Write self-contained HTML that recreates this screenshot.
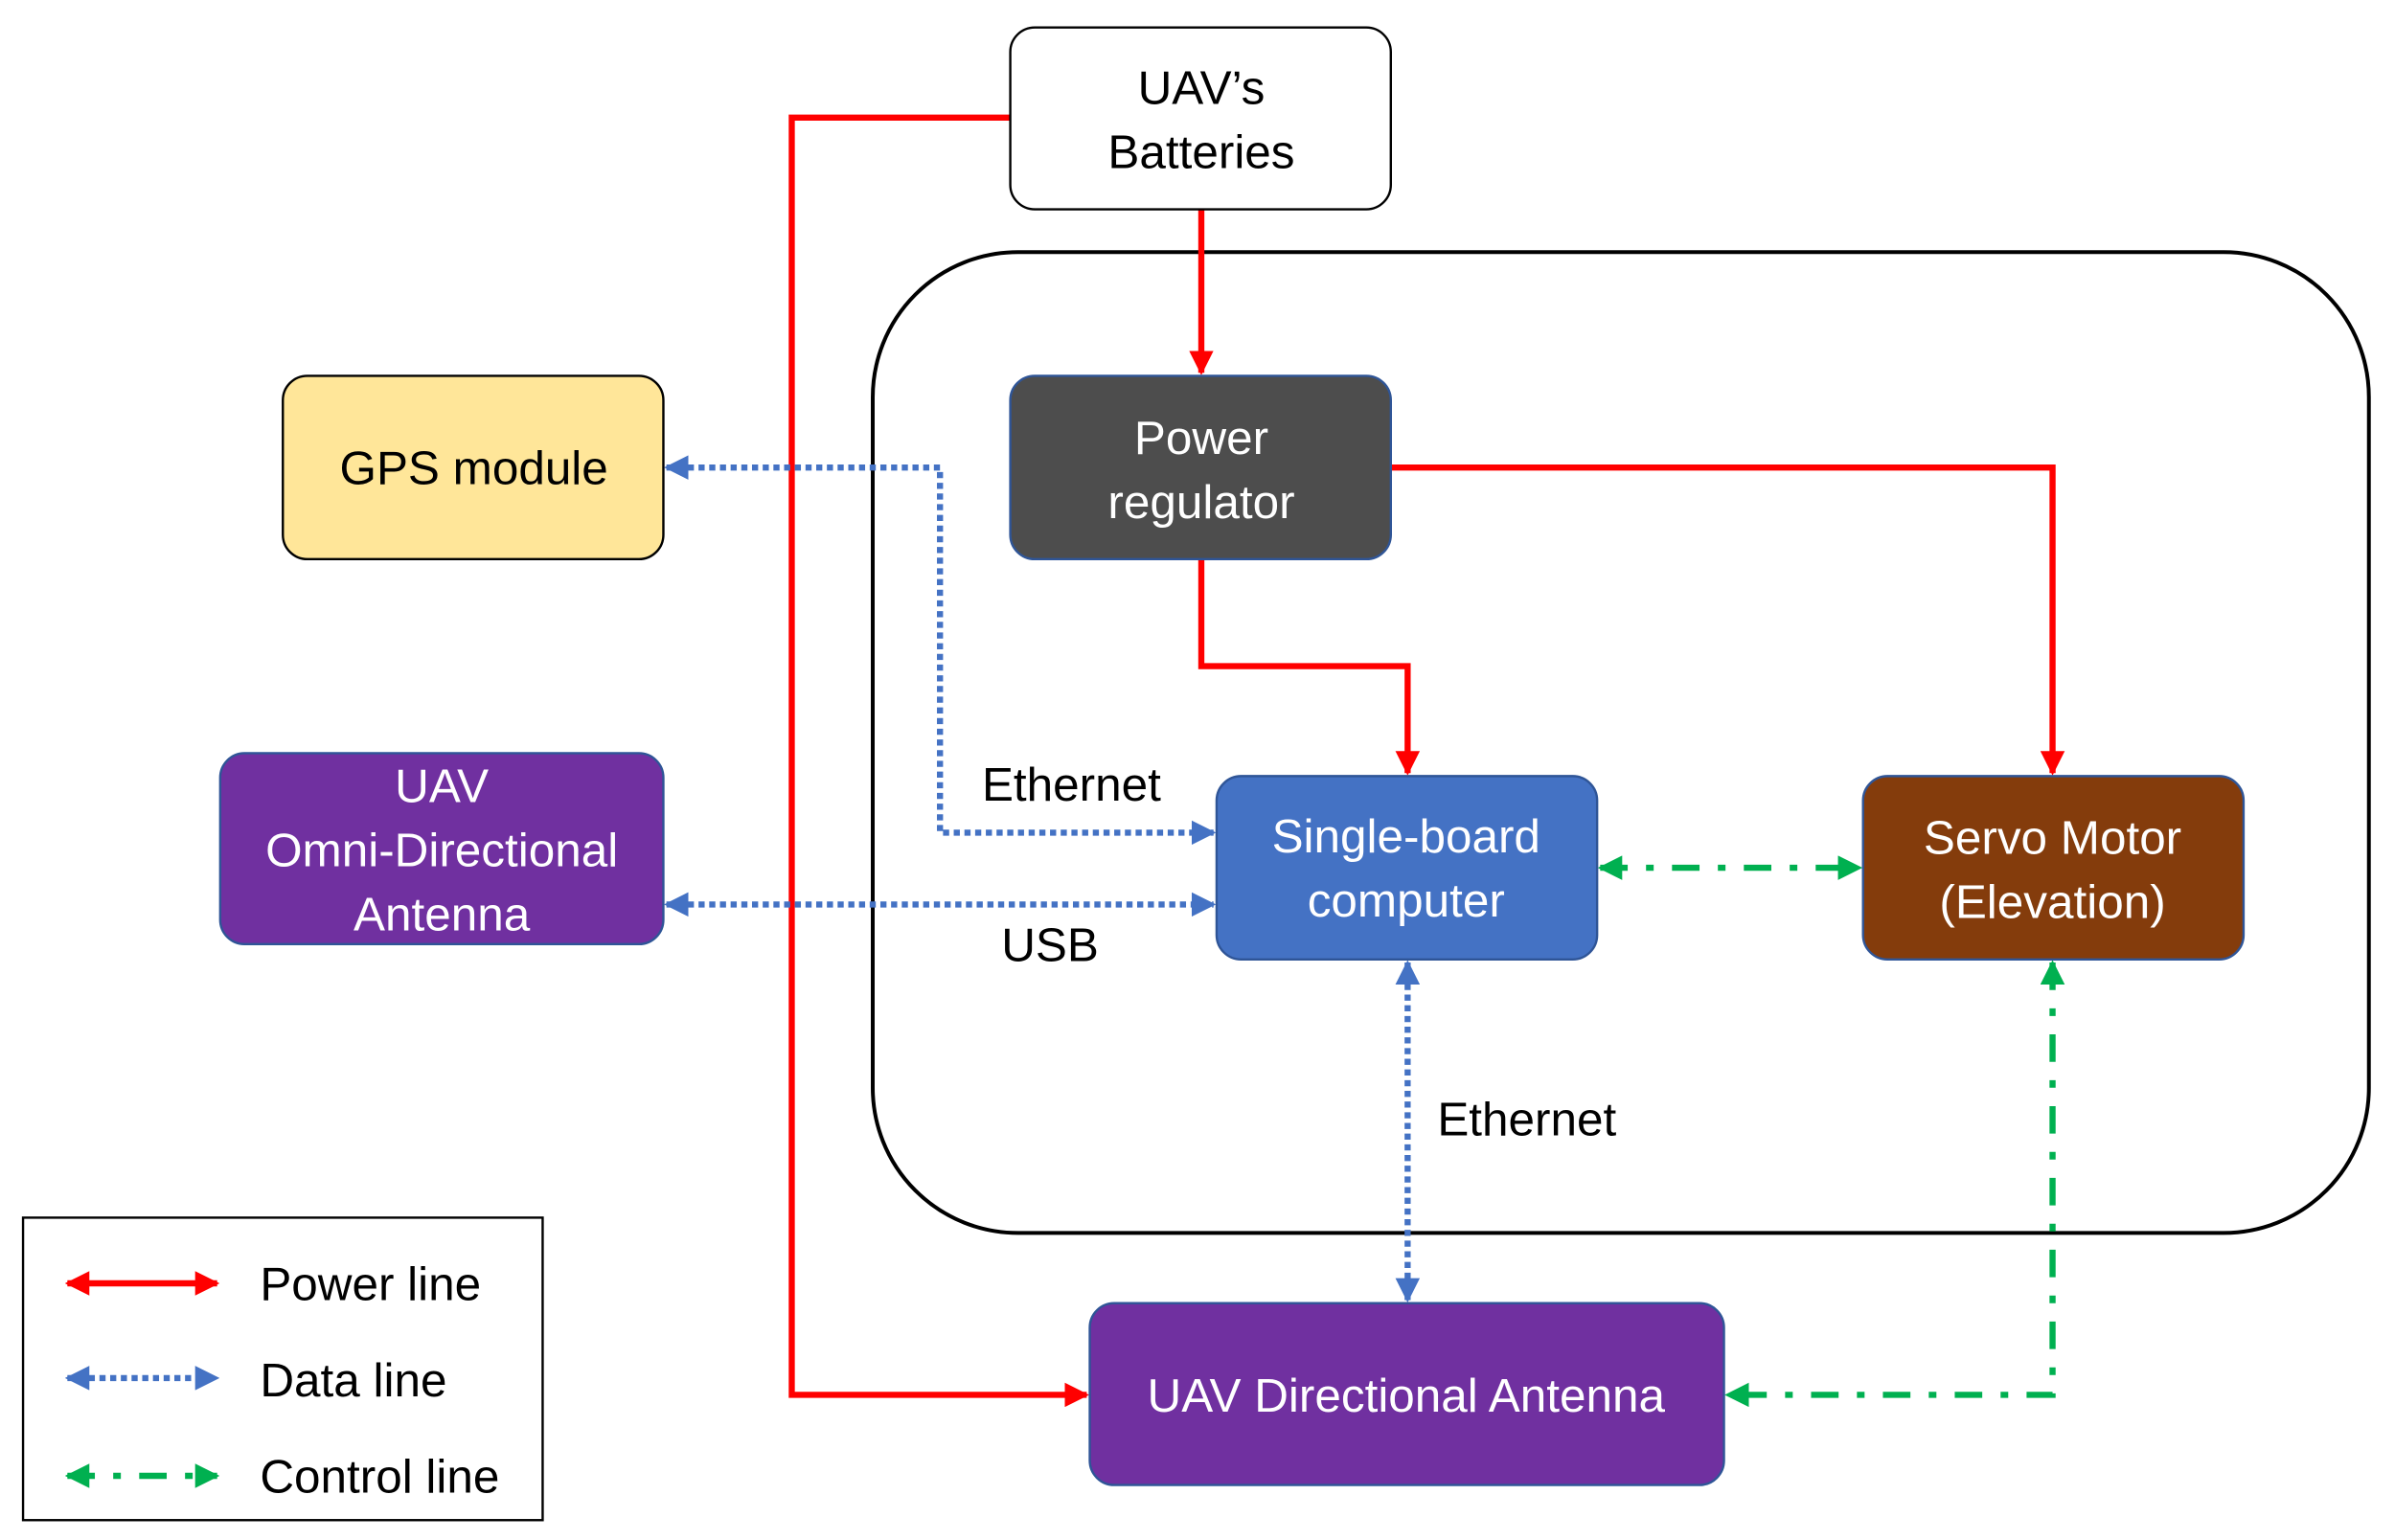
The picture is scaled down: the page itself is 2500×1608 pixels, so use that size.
<!DOCTYPE html>
<html><head><meta charset="utf-8"><style>
html,body{margin:0;padding:0;background:#fff;}
svg{display:block;}
text{font-family:"Liberation Sans",sans-serif;font-size:31px;text-anchor:middle;}
</style></head><body>
<svg width="2500" height="1608" viewBox="0 0 1567 1008" xmlns="http://www.w3.org/2000/svg">
<defs>
<marker id="ar" viewBox="0 0 10 10" refX="9" refY="5" markerWidth="4" markerHeight="4" orient="auto-start-reverse" markerUnits="strokeWidth"><path d="M0,0L10,5L0,10z" fill="#FF0000"/></marker>
<marker id="ab" viewBox="0 0 10 10" refX="9" refY="5" markerWidth="4" markerHeight="4" orient="auto-start-reverse" markerUnits="strokeWidth"><path d="M0,0L10,5L0,10z" fill="#4472C4"/></marker>
<marker id="ag" viewBox="0 0 10 10" refX="9" refY="5" markerWidth="4" markerHeight="4" orient="auto-start-reverse" markerUnits="strokeWidth"><path d="M0,0L10,5L0,10z" fill="#00B050"/></marker>
</defs>
<rect x="571" y="165" width="979" height="642" rx="95" fill="none" stroke="#000" stroke-width="2.5"/>
<g fill="none" stroke="#FF0000" stroke-width="4">
<polyline points="661,77 518,77 518,913 711,913" marker-end="url(#ar)"/>
<polyline points="786,137 786,244" marker-end="url(#ar)"/>
<polyline points="910,306 1343,306 1343,506" marker-end="url(#ar)"/>
<polyline points="786,366 786,436 921,436 921,506" marker-end="url(#ar)"/>
</g>
<g fill="none" stroke="#4472C4" stroke-width="4" stroke-dasharray="4 3">
<polyline points="436,306 615,306 615,545 794,545" marker-start="url(#ab)" marker-end="url(#ab)"/>
<polyline points="436,592 794,592" marker-start="url(#ab)" marker-end="url(#ab)"/>
<polyline points="921,630 921,851" marker-start="url(#ab)" marker-end="url(#ab)"/>
</g>
<g fill="none" stroke="#00B050" stroke-width="4" stroke-dasharray="18 12 5 12">
<polyline points="1047,568 1217,568" marker-start="url(#ag)" marker-end="url(#ag)"/>
<polyline points="1343,630 1343,913 1130,913" marker-start="url(#ag)" marker-end="url(#ag)"/>
</g>
<rect x="661" y="18" width="249" height="119" rx="16" fill="#fff" stroke="#000" stroke-width="1.5"/>
<text x="786" y="68" fill="#000">UAV’s</text><text x="786" y="110" fill="#000">Batteries</text>
<rect x="185" y="246" width="249" height="120" rx="16" fill="#FFE699" stroke="#000" stroke-width="1.5"/>
<text x="310" y="317">GPS module</text>
<rect x="661" y="246" width="249" height="120" rx="16" fill="#4D4D4D" stroke="#2F5597" stroke-width="1.5"/>
<text x="786" y="297" fill="#fff">Power</text><text x="786" y="339" fill="#fff">regulator</text>
<rect x="144" y="493" width="290" height="125" rx="16" fill="#7030A0" stroke="#2F5597" stroke-width="1.5"/>
<text x="289" y="525" fill="#fff">UAV</text><text x="289" y="567" fill="#fff">Omni-Directional</text><text x="289" y="609" fill="#fff">Antenna</text>
<rect x="796" y="508" width="249" height="120" rx="16" fill="#4472C4" stroke="#2F5597" stroke-width="1.5"/>
<text x="920" y="558" fill="#fff">Single-board</text><text x="920" y="600" fill="#fff">computer</text>
<rect x="1219" y="508" width="249" height="120" rx="16" fill="#843C0C" stroke="#2F5597" stroke-width="1.5"/>
<text x="1343" y="559" fill="#fff">Servo Motor</text><text x="1343" y="601" fill="#fff">(Elevation)</text>
<rect x="713" y="853" width="415" height="119" rx="16" fill="#7030A0" stroke="#2F5597" stroke-width="1.5"/>
<text x="920" y="924" fill="#fff">UAV Directional Antenna</text>
<text x="701" y="524">Ethernet</text>
<text x="687" y="629">USB</text>
<text x="999" y="743">Ethernet</text>
<rect x="15" y="797" width="340" height="198" fill="#fff" stroke="#000" stroke-width="1.5"/>
<line x1="44" y1="840" x2="142" y2="840" stroke="#FF0000" stroke-width="4" marker-start="url(#ar)" marker-end="url(#ar)"/>
<line x1="44" y1="902" x2="142" y2="902" stroke="#4472C4" stroke-width="4" stroke-dasharray="4 3" marker-start="url(#ab)" marker-end="url(#ab)"/>
<line x1="44" y1="966" x2="142" y2="966" stroke="#00B050" stroke-width="4" stroke-dasharray="18 12 5 12" marker-start="url(#ag)" marker-end="url(#ag)"/>
<text x="170" y="851" style="text-anchor:start">Power line</text>
<text x="170" y="914" style="text-anchor:start">Data line</text>
<text x="170" y="977" style="text-anchor:start">Control line</text>
</svg>
</body></html>
